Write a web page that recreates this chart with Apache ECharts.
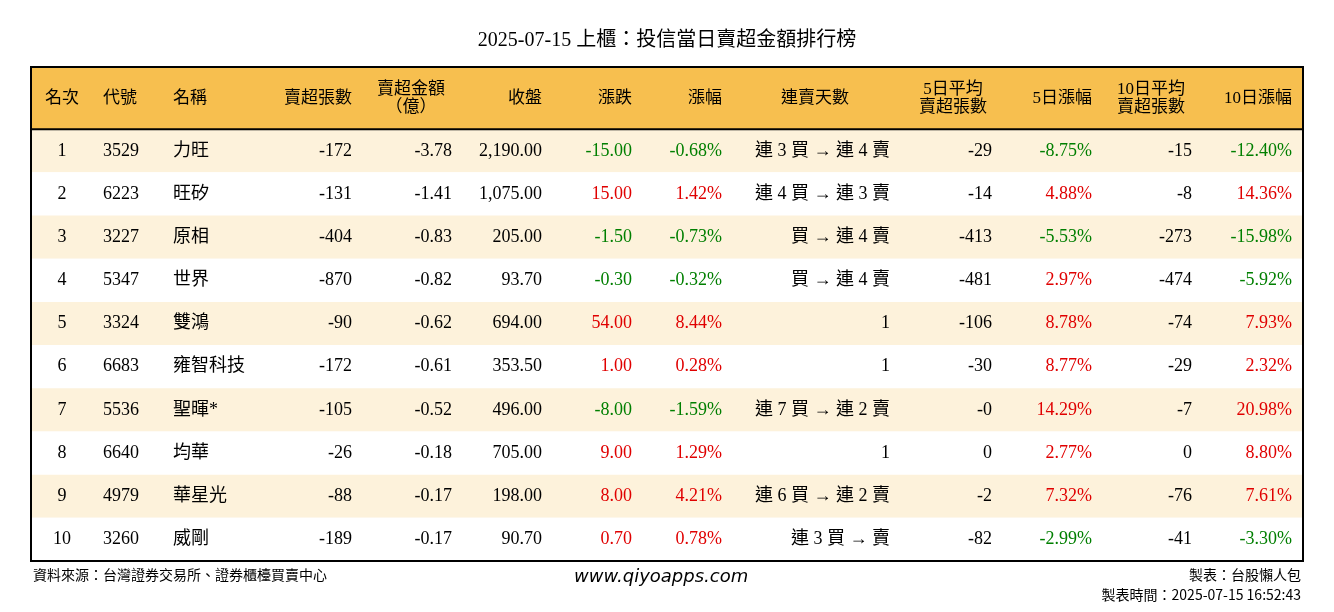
<!DOCTYPE html>
<html><head><meta charset="utf-8">
<script src="https://cdn.jsdelivr.net/npm/echarts@6/dist/echarts.min.js"></script>
<style>html,body{margin:0;padding:0;background:#fff}#c{width:1334px;height:612px}</style>
</head><body><div id="c"></div>
<script>
const titleText = '2025-07-15 上櫃：投信當日賣超金額排行榜';
const headers = ['名次','代號','名稱','賣超張數','賣超金額\n（億）','收盤','漲跌','漲幅','連賣天數','5日平均\n賣超張數','5日漲幅','10日平均\n賣超張數','10日漲幅'];
const ranks = [1,2,3,4,5,6,7,8,9,10];
const codes = ['3529','6223','3227','5347','3324','6683','5536','6640','4979','3260'];
const names = ['力旺','旺矽','原相','世界','雙鴻','雍智科技','聖暉*','均華','華星光','威剛'];
const sellQty = ['-172','-131','-404','-870','-90','-172','-105','-26','-88','-189'];
const sellAmt = ['-3.78','-1.41','-0.83','-0.82','-0.62','-0.61','-0.52','-0.18','-0.17','-0.17'];
const closes = ['2,190.00','1,075.00','205.00','93.70','694.00','353.50','496.00','705.00','198.00','90.70'];
const changes = ['-15.00','15.00','-1.50','-0.30','54.00','1.00','-8.00','9.00','8.00','0.70'];
const changePct = ['-0.68%','1.42%','-0.73%','-0.32%','8.44%','0.28%','-1.59%','1.29%','4.21%','0.78%'];
const streak = ['連 3 買 → 連 4 賣','連 4 買 → 連 3 賣','買 → 連 4 賣','買 → 連 4 賣','1','1','連 7 買 → 連 2 賣','1','連 6 買 → 連 2 賣','連 3 買 → 賣'];
const avg5 = ['-29','-14','-413','-481','-106','-30','-0','0','-2','-82'];
const pct5 = ['-8.75%','4.88%','-5.53%','2.97%','8.78%','8.77%','14.29%','2.77%','7.32%','-2.99%'];
const avg10 = ['-15','-8','-273','-474','-74','-29','-7','0','-76','-41'];
const pct10 = ['-12.40%','14.36%','-15.98%','-5.92%','7.93%','2.32%','20.98%','8.80%','7.61%','-3.30%'];

// column layout: [x (relative to table left), align] for body; header x/align
const colBody = [[31,'center'],[72,'left'],[142,'left'],[321,'right'],[421,'right'],[511,'right'],[601,'right'],[691,'right'],[859,'right'],[961,'right'],[1061,'right'],[1161,'right'],[1261,'right']];
const colHead = [[31,'center'],[72,'left'],[142,'left'],[321,'right'],[380,'center'],[511,'right'],[601,'right'],[691,'right'],[784,'center'],[922,'center'],[1061,'right'],[1120,'center'],[1261,'right']];
const HEAD = -1.44;
const FONT = "'Liberation Serif','Noto Sans CJK TC',serif";
const RED='#e00000', GREEN='#007f00';
function col(v){ const n=parseFloat(v); return n>0?RED:(n<0?GREEN:'#000'); }

const rows = ranks.map((r,i)=>[i, String(r), codes[i], names[i], sellQty[i], sellAmt[i], closes[i], changes[i], changePct[i], streak[i], avg5[i], pct5[i], avg10[i], pct10[i]]);
const colored = new Set([7,8,11,13]);

const chart = echarts.init(document.getElementById('c'));
chart.setOption({
  animation:false,
  title:{text:titleText,left:'center',top:26,textStyle:{fontFamily:FONT,fontSize:20,fontWeight:'normal',color:'#000'}},
  grid:{left:31,right:31,top:67,bottom:51},
  xAxis:{type:'value',min:0,max:1272,show:false},
  yAxis:{type:'value',min:HEAD,max:10,inverse:true,show:false},
  series:[
    {type:'custom',data:[[0]],renderItem:(p,api)=>{
      const a=api.coord([0,HEAD]), b=api.coord([1272,0]);
      const ch=[{type:'rect',shape:{x:a[0],y:a[1],width:b[0]-a[0],height:b[1]-a[1]},style:{fill:'#f7bf4f'}}];
      const cy=(a[1]+b[1])/2;
      headers.forEach((h,k)=>{
        const x=api.coord([colHead[k][0],0])[0];
        ch.push({type:'text',x:x,y:cy,style:{text:h,fontFamily:FONT,fontSize:17,fill:'#000',align:colHead[k][1],verticalAlign:'middle',lineHeight:18}});
      });
      return {type:'group',children:ch};
    }},
    {type:'custom',data:rows,renderItem:(p,api)=>{
      const i=api.value(0);
      const a=api.coord([0,i]), b=api.coord([1272,i+1]);
      const ch=[{type:'rect',shape:{x:a[0],y:a[1],width:b[0]-a[0],height:b[1]-a[1]},style:{fill:i%2===0?'#fdf2db':'#ffffff'}}];
      const cy=(a[1]+b[1])/2;
      const r=rows[i];
      for(let k=0;k<13;k++){
        const v=r[k+1];
        const x=api.coord([colBody[k][0],0])[0];
        ch.push({type:'text',x:x,y:cy,style:{text:v,fontFamily:FONT,fontSize:18,fill:colored.has(k+1)?col(v):'#000',align:colBody[k][1],verticalAlign:'middle'}});
      }
      return {type:'group',children:ch};
    }},
    {type:'custom',data:[[0]],z:10,renderItem:(p,api)=>{
      const a=api.coord([0,HEAD]), b=api.coord([1272,10]), m=api.coord([0,0]);
      return {type:'group',children:[
        {type:'rect',shape:{x:a[0],y:a[1],width:b[0]-a[0],height:b[1]-a[1]},style:{fill:null,stroke:'#000',lineWidth:2}},
        {type:'line',shape:{x1:a[0],y1:m[1],x2:b[0],y2:m[1]},style:{stroke:'#000',lineWidth:2}}
      ]};
    }}
  ],
  graphic:[
    {type:'text',left:33,top:568,style:{text:'資料來源：台灣證券交易所、證券櫃檯買賣中心',fontFamily:"'Noto Sans CJK TC'",fontSize:14,fill:'#000'}},
    {type:'text',left:574,top:568,style:{text:'www.qiyoapps.com',fontFamily:"'DejaVu Sans'",fontStyle:'italic',fontSize:18,fill:'#000'}},
    {type:'text',right:33,top:568,style:{text:'製表：台股懶人包',fontFamily:"'Noto Sans CJK TC'",fontSize:14,fill:'#000',align:'right'}},
    {type:'text',right:33,top:588,style:{text:'製表時間：2025-07-15 16:52:43',fontFamily:"'Noto Sans CJK TC'",fontSize:14,fill:'#000',align:'right'}}
  ]
});
</script></body></html>
